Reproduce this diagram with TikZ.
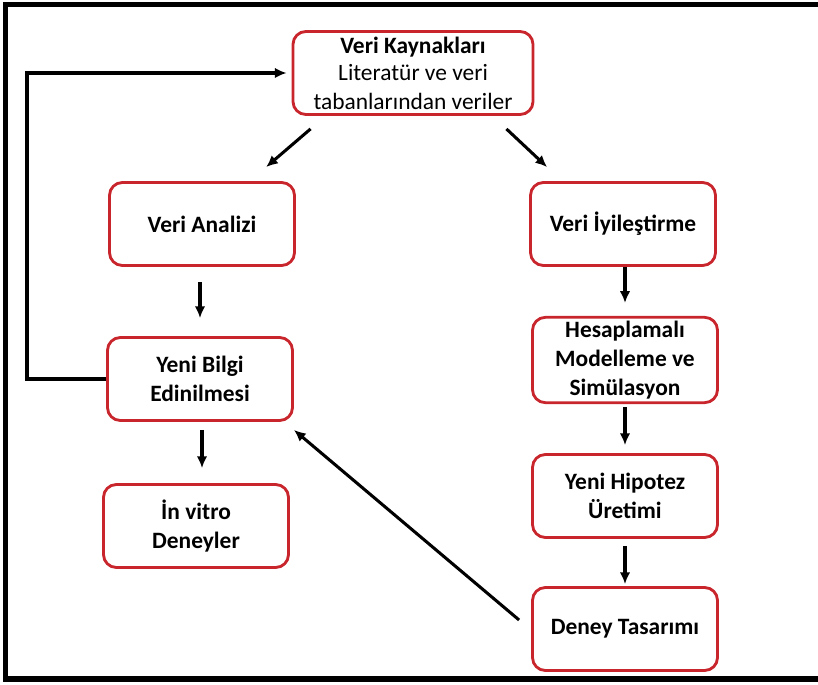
\documentclass[tikz,border=0pt]{standalone}
\usepackage{fontspec}
\setmainfont{Carlito}
\usetikzlibrary{arrows.meta,calc}
\definecolor{boxred}{RGB}{200,38,44}

\begin{document}
\begin{tikzpicture}[>={Latex[length=10pt,width=9pt]},x=0.03cm,y=-0.03cm,
  box/.style={draw=boxred,line width=2.4pt,rounded corners=11pt,fill=white,
    minimum width=5.55cm,minimum height=2.49cm,align=center,
    font=\fontsize{20}{24.5}\selectfont\bfseries},
  link/.style={->,line width=2.6pt}]
  % Page and frame
  \useasboundingbox (0,0) rectangle (818,685);
  \draw[line width=4.3pt] (830,4.5) -- (5.5,4.5) -- (5.5,679) -- (830,679);
  %
  % Boxes
  \node[box,minimum width=7.2cm] (kaynak) at (413,73)
    {Veri Kaynakları\\[-1pt]\mdseries Literatür ve veri\\\mdseries tabanlarından veriler};
  \node[box] (analiz) at (202,224) {Veri Analizi};
  \node[box] (iyiles) at (623,224) {Veri İyileştirme};
  \node[box] (bilgi) at (200,379) {Yeni Bilgi\\Edinilmesi};
  \node[box] (vitro) at (196,526) {İn vitro\\Deneyler};
  \node[box] (model) at (625,360) {Hesaplamalı\\Modelleme ve\\Simülasyon};
  \node[box] (hipotez) at (625,496) {Yeni Hipotez\\Üretimi};
  \node[box] (tasarim) at (625,629) {Deney Tasarımı};
  %
  % Connectors
  \coordinate (fb) at (27,379);
  \draw[link] ($(kaynak.south west)+(19,13)$) -- ($(analiz.north west)+(158,-14)$);
  \draw[link] ($(kaynak.south east)+(-28,13)$) -- ($(iyiles.north west)+(18,-14)$);
  \draw[link] ($(analiz.south)+(-2,15)$) -- ($(bilgi.north)+(0,-18)$);
  \draw[link] ($(bilgi.south)+(2,8)$) -- ($(vitro.north)+(6,-15)$);
  \draw[link] ($(iyiles.south)+(2,0)$) -- ($(model.north)+(0,-13)$);
  \draw[link] ($(model.south)+(0,3)$) -- ($(hipotez.north)+(0,-8)$);
  \draw[link] ($(hipotez.south)+(0,7)$) -- ($(tasarim.north)+(0,-2)$);
  \draw[link] ($(tasarim.west)+(-12,-9)$) -- ($(bilgi.south east)+(0,8)$);
  \draw[link] (bilgi.west) -- (fb) |- ($(kaynak.west)+(-5,0)$);
\end{tikzpicture}
\end{document}
